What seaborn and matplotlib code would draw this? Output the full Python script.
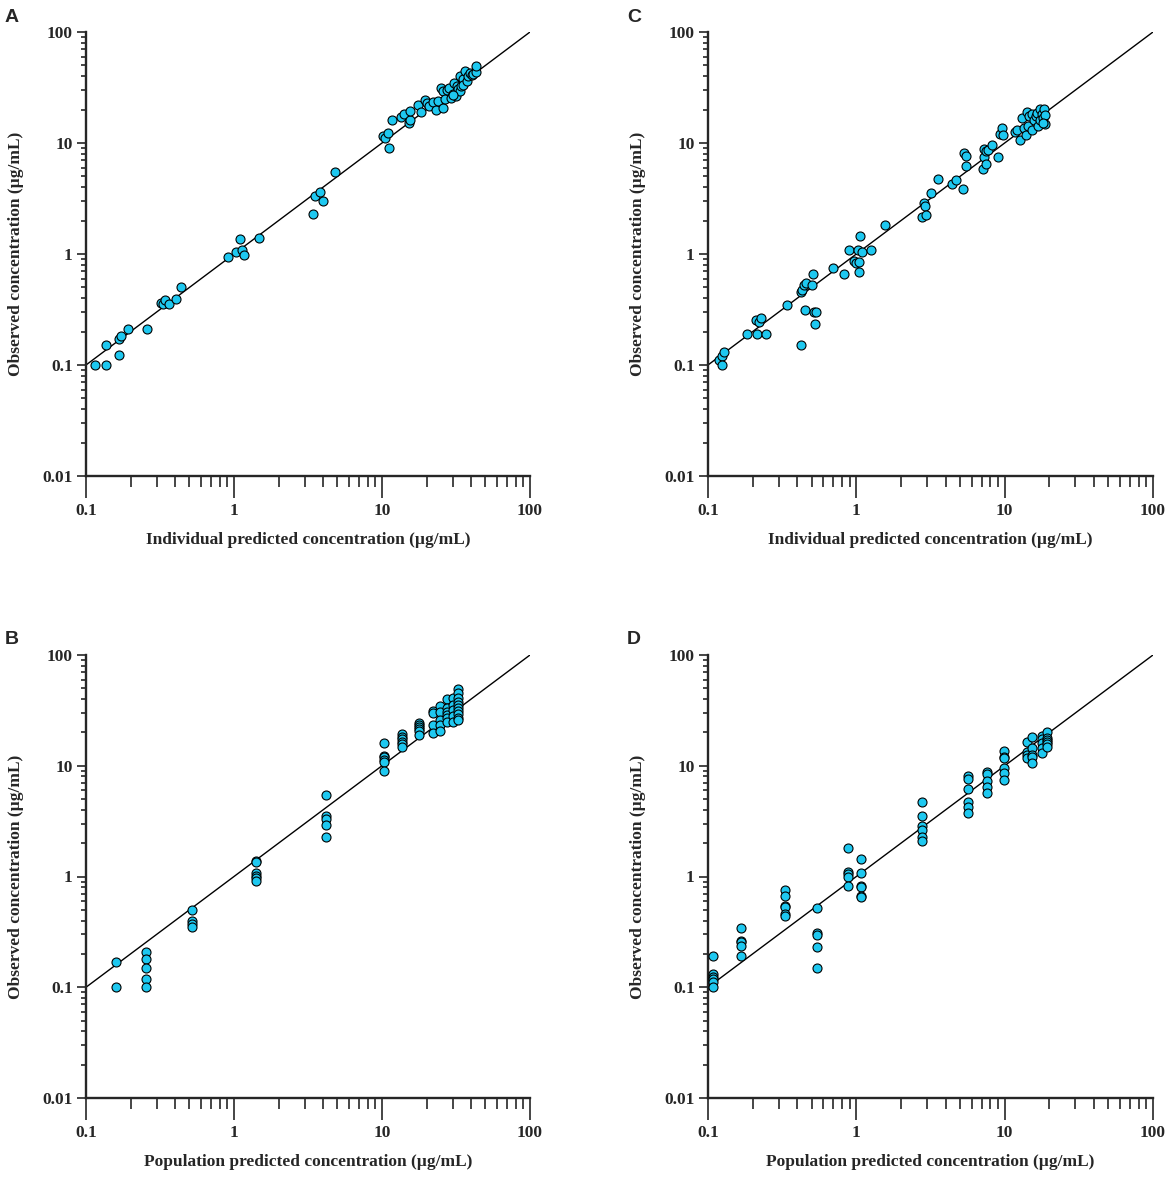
import numpy as np
import pandas as pd
import matplotlib
matplotlib.use("Agg")
import matplotlib.pyplot as plt
import seaborn as sns
from matplotlib.ticker import FixedLocator, NullFormatter, LogLocator

sns.set_style("ticks")
plt.rcParams['font.family'] = ['Liberation Serif', 'DejaVu Serif']

# ---------------- data ----------------
# Panel A: individual predicted vs observed (model 1)
a_ipred = [0.115, 0.136, 0.136, 0.167, 0.167, 0.172, 0.192, 0.257, 0.321, 0.330,
           0.344, 0.362, 0.408, 0.438, 0.906, 1.03, 1.098, 1.127, 1.162, 1.48,
           3.40, 3.51, 3.81, 3.99, 4.81, 10.1, 10.4, 10.9, 11.1, 11.7,
           13.5, 14.1, 15.2, 15.5, 15.4, 17.6, 18.3, 19.5, 20.0, 20.9,
           22.0, 23.2, 24.0, 25.0, 26.0, 25.7, 26.7, 27.3, 28.5, 29.1,
           30.3, 30.8, 31.6, 32.0, 32.8, 33.6, 33.6, 34.2, 35.5, 35.1,
           36.4, 37.3, 38.3, 39.3, 40.3, 41.4, 43.1, 43.1, 30.3]
a_obs = [0.101, 0.100, 0.152, 0.122, 0.171, 0.184, 0.212, 0.212, 0.365, 0.355,
         0.388, 0.355, 0.397, 0.508, 0.933, 1.05, 1.365, 1.094, 0.986, 1.39,
         2.31, 3.31, 3.60, 2.98, 5.52, 11.5, 11.1, 12.3, 9.08, 16.0,
         17.1, 18.1, 15.1, 16.2, 19.3, 22.0, 19.1, 24.2, 22.9, 21.7,
         23.4, 19.7, 23.7, 31.0, 20.5, 29.2, 24.9, 30.2, 31.3, 25.4,
         27.8, 34.7, 26.3, 32.4, 30.6, 29.2, 40.4, 32.8, 37.7, 33.6,
         44.3, 36.0, 39.9, 42.8, 41.3, 42.2, 43.4, 49.1, 27.2]

# Panel B: population predicted vs observed (model 1)
b_pred = ([0.159] * 2 + [0.254] * 5 + [0.520] * 4 + [1.415] * 6 + [4.16] * 5 +
          [10.26] * 6 + [13.7] * 6 + [17.8] * 6 + [22.2] * 4 + [24.7] * 5 +
          [27.4] * 6 + [30.0] * 5 + [32.8] * 10)
b_obs = [0.170, 0.100,
         0.210, 0.180, 0.149, 0.119, 0.100,
         0.500, 0.393, 0.374, 0.349,
         1.366, 1.34, 1.07, 1.02, 0.973, 0.92,
         5.50, 3.55, 3.31, 2.93, 2.28,
         15.96, 12.36, 11.93, 11.3, 10.76, 8.98,
         19.2, 18.3, 17.3, 16.5, 15.7, 14.9,
         24.2, 23.4, 22.5, 21.3, 20.8, 19.0,
         31.5, 29.8, 23.4, 19.6,
         34.9, 30.8, 25.9, 23.4, 20.6,
         39.8, 33.0, 30.8, 28.7, 26.8, 24.7,
         40.6, 35.4, 31.9, 28.2, 25.0,
         49.0, 45.1, 40.6, 37.9, 35.4, 33.0, 31.3, 29.4, 26.8, 25.9]

# Panel C: individual predicted vs observed (model 2)
c_ipred = [0.118, 0.124, 0.125, 0.128, 0.184, 0.210, 0.214, 0.220, 0.228, 0.246,
           0.339, 0.421, 0.421, 0.428, 0.442, 0.455, 0.449, 0.500, 0.513, 0.518,
           0.535, 0.529, 0.692, 0.830, 0.888, 0.964, 1.00, 1.02, 1.04, 1.04,
           1.06, 1.09, 1.26, 1.56, 2.79, 2.84, 2.89, 2.95, 3.21, 3.53,
           4.41, 4.70, 5.21, 5.35, 5.52, 5.52, 7.18, 7.26, 7.26, 7.45,
           7.52, 7.76, 8.21, 9.02, 9.25, 9.64, 9.74, 11.8, 12.2, 12.6,
           13.1, 13.5, 14.0, 14.2, 14.4, 14.7, 15.2, 15.4, 15.8, 16.2,
           16.5, 16.9, 17.2, 17.4, 17.9, 18.1, 18.5, 18.7, 18.6, 18.0]
c_obs = [0.112, 0.121, 0.101, 0.131, 0.191, 0.256, 0.191, 0.242, 0.265, 0.191,
         0.345, 0.152, 0.452, 0.477, 0.523, 0.548, 0.315, 0.526, 0.666, 0.302,
         0.302, 0.232, 0.748, 0.666, 1.09, 0.859, 0.830, 1.08, 0.841, 0.689,
         1.46, 1.04, 1.09, 1.82, 2.14, 2.88, 2.68, 2.26, 3.55, 4.71,
         4.25, 4.65, 3.83, 8.13, 7.59, 6.21, 5.79, 7.48, 8.83, 6.43,
         8.41, 8.71, 9.53, 7.48, 12.1, 13.6, 11.7, 12.5, 13.0, 10.6,
         16.7, 13.6, 11.9, 18.9, 14.1, 17.4, 13.2, 18.4, 16.2, 17.4,
         18.6, 14.3, 20.2, 16.2, 18.2, 16.7, 20.2, 18.0, 14.9, 15.1]

# Panel D: population predicted vs observed (model 2)
d_pred = ([0.108] * 6 + [0.168] * 5 + [0.329] * 6 + [0.546] * 5 + [0.879] * 5 +
          [1.075] * 6 + [2.76] * 6 + [5.69] * 6 + [7.60] * 5 + [9.85] * 6 +
          [14.2] * 4 + [15.3] * 5 + [17.8] * 5 + [19.3] * 6)
d_obs = [0.190, 0.131, 0.125, 0.118, 0.111, 0.100,
         0.340, 0.263, 0.254, 0.238, 0.190,
         0.748, 0.661, 0.543, 0.525, 0.457, 0.442,
         0.522, 0.308, 0.298, 0.230, 0.149,
         1.80, 1.09, 1.05, 0.986, 0.829,
         1.45, 1.07, 0.829, 0.80, 0.67, 0.65,
         4.69, 3.52, 2.87, 2.64, 2.25, 2.11,
         8.10, 7.55, 6.14, 4.66, 4.23, 3.78,
         8.86, 8.44, 7.35, 6.49, 5.73,
         13.7, 11.9, 11.7, 9.49, 8.67, 7.45,
         16.5, 13.4, 12.5, 11.7,
         18.1, 14.4, 12.5, 11.9, 10.5,
         18.6, 17.3, 16.0, 14.4, 13.1,
         20.3, 17.9, 17.1, 16.5, 15.7, 14.9]

identity_line = [0.1, 100]
x_ticks = [0.1, 1, 10, 100]
x_ticklabels = ["0.1", "1", "10", "100"]
y_ticks = [0.01, 0.1, 1, 10, 100]
y_ticklabels = ["0.01", "0.1", "1", "10", "100"]
panel_letters = ["A", "B", "C", "D"]
x_titles = ["Individual predicted concentration (\u00b5g/mL)",
            "Population predicted concentration (\u00b5g/mL)",
            "Individual predicted concentration (\u00b5g/mL)",
            "Population predicted concentration (\u00b5g/mL)"]
y_title = "Observed concentration (\u00b5g/mL)"

# ---------------- figure ----------------
W, H = 1170, 1179
fig = plt.figure(figsize=(W / 100, H / 100), dpi=100)

def px_axes(x0, x1, y0, y1):
    return fig.add_axes([x0 / W, 1 - y1 / H, (x1 - x0) / W, (y1 - y0) / H])

axes_px = {"A": (86, 530, 32, 476), "C": (708, 1153, 32, 476),
           "B": (86, 530, 655, 1098), "D": (708, 1153, 655, 1098)}
letter_px = {"A": (12, 17), "C": (634, 17), "B": (12, 640), "D": (634, 640)}

panel_data = {"A": (a_ipred, a_obs, x_titles[0]),
              "B": (b_pred, b_obs, x_titles[1]),
              "C": (c_ipred, c_obs, x_titles[2]),
              "D": (d_pred, d_obs, x_titles[3])}

marker_color = "#1EC8F0"
for key in panel_letters:
    xs, ys, xt = panel_data[key]
    ax = px_axes(*axes_px[key])
    df = pd.DataFrame({"pred": xs, "obs": ys})
    ax.set_xscale("log")
    ax.set_yscale("log")
    sns.lineplot(x=identity_line, y=identity_line, ax=ax, color="black",
                 linewidth=1.0, zorder=1)
    sns.scatterplot(data=df, x="pred", y="obs", ax=ax, color=marker_color,
                    edgecolor="black", linewidth=0.8, s=42, zorder=3,
                    clip_on=False)
    ax.set_xlim(0.1, 100)
    ax.set_ylim(0.01, 100)
    ax.xaxis.set_major_locator(FixedLocator(x_ticks))
    ax.set_xticklabels(x_ticklabels)
    ax.yaxis.set_major_locator(FixedLocator(y_ticks))
    ax.set_yticklabels(y_ticklabels)
    ax.xaxis.set_minor_locator(LogLocator(base=10, subs=np.arange(2, 10)))
    ax.yaxis.set_minor_locator(LogLocator(base=10, subs=np.arange(2, 10)))
    ax.xaxis.set_minor_formatter(NullFormatter())
    ax.yaxis.set_minor_formatter(NullFormatter())
    for sp in ["top", "right"]:
        ax.spines[sp].set_visible(False)
    for sp in ["left", "bottom"]:
        ax.spines[sp].set_linewidth(1.7)
    ax.tick_params(axis="x", which="major", length=15.5, width=1.2, pad=4,
                   direction="out")
    ax.tick_params(axis="x", which="minor", length=7.8, width=1.2,
                   direction="out")
    ax.tick_params(axis="y", which="major", length=6.5, width=1.2, pad=3,
                   direction="out")
    ax.tick_params(axis="y", which="minor", length=3.6, width=1.2,
                   direction="out")
    for lab in ax.get_xticklabels() + ax.get_yticklabels():
        lab.set_fontweight("bold")
        lab.set_fontsize(12.5)
    ax.set_xlabel(xt, fontsize=12.5, fontweight="bold", labelpad=9)
    ax.set_ylabel(y_title, fontsize=12.5, fontweight="bold", labelpad=13)
    lx, ly = letter_px[key]
    fig.text(lx / W, 1 - ly / H, key, fontsize=14, fontweight="bold",
             family=["Liberation Sans", "DejaVu Sans"], ha="center", va="center")

fig.savefig("out.png", dpi=100)
